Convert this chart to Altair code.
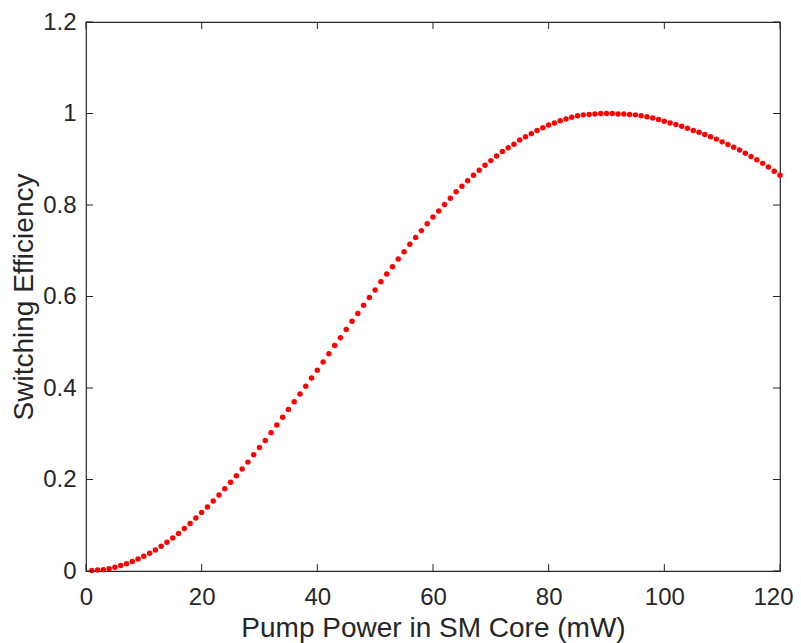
import altair as alt
import pandas as pd

# Pump power (mW) and switching efficiency
power = list(range(1, 121))
efficiency = [
    0.001, 0.002, 0.003, 0.005, 0.008, 0.012, 0.016, 0.021, 0.026, 0.032,
    0.039, 0.046, 0.054, 0.063, 0.072, 0.082, 0.093, 0.104, 0.116, 0.128,
    0.140, 0.153, 0.166, 0.180, 0.194, 0.208, 0.223, 0.238, 0.254, 0.270,
    0.285, 0.302, 0.319, 0.336, 0.353, 0.370, 0.387, 0.404, 0.422, 0.439,
    0.457, 0.475, 0.493, 0.510, 0.528, 0.546, 0.563, 0.581, 0.598, 0.614,
    0.632, 0.649, 0.665, 0.682, 0.698, 0.714, 0.729, 0.744, 0.759, 0.774,
    0.787, 0.801, 0.815, 0.829, 0.841, 0.853, 0.865, 0.876, 0.887, 0.897,
    0.907, 0.917, 0.925, 0.933, 0.942, 0.949, 0.956, 0.963, 0.969, 0.975,
    0.979, 0.984, 0.988, 0.992, 0.995, 0.997, 0.998, 0.999, 1.000, 1.000,
    1.000, 0.999, 0.999, 0.998, 0.997, 0.995, 0.993, 0.990, 0.987, 0.983,
    0.979, 0.976, 0.972, 0.968, 0.963, 0.959, 0.954, 0.949, 0.944, 0.938,
    0.932, 0.926, 0.920, 0.913, 0.906, 0.899, 0.891, 0.883, 0.874, 0.865,
]
x_ticks = [0, 20, 40, 60, 80, 100, 120]
y_ticks = [0, 0.2, 0.4, 0.6, 0.8, 1.0, 1.2]

W, H = 694, 549
AX = "#262626"
FONT = "Liberation Sans"

df = pd.DataFrame({"P": power, "E": efficiency})
dfx = pd.DataFrame({"P": x_ticks})
dfy = pd.DataFrame({"E": y_ticks})

xscale = alt.Scale(domain=[0, 120], nice=False, zero=False)
yscale = alt.Scale(domain=[0, 1.2], nice=False, zero=False)

points = alt.Chart(df).mark_circle(size=30, color="#ff0000", opacity=1).encode(
    x=alt.X("P:Q", scale=xscale,
            axis=alt.Axis(values=x_ticks, format="d", title="Pump Power in SM Core (mW)",
                          domain=False, ticks=False, grid=False, labelPadding=14,
                          labelFlush=False, labelOverlap=False,
                          labelOffset={"condition": {"test": "datum.value == 120", "value": -7},
                                       "value": 0},
                          labelFontSize=24, titleFontSize=28, labelColor=AX, titleColor=AX,
                          labelFont=FONT, titleFont=FONT, titleFontWeight="normal",
                          titlePadding=5)),
    y=alt.Y("E:Q", scale=yscale,
            axis=alt.Axis(values=y_ticks, format="~g", title="Switching Efficiency",
                          domain=False, ticks=False, grid=False, labelPadding=10,
                          labelFlush=False, labelOverlap=False,
                          labelFontSize=24, titleFontSize=28, labelColor=AX, titleColor=AX,
                          labelFont=FONT, titleFont=FONT, titleFontWeight="normal",
                          titlePadding=4)),
)

tl = 7
xt_bottom = alt.Chart(dfx).mark_rule(color=AX, strokeWidth=1).encode(
    x=alt.X("P:Q", scale=xscale), y=alt.value(H), y2=alt.value(H - tl))
xt_top = alt.Chart(dfx).mark_rule(color=AX, strokeWidth=1).encode(
    x=alt.X("P:Q", scale=xscale), y=alt.value(0), y2=alt.value(tl))
yt_left = alt.Chart(dfy).mark_rule(color=AX, strokeWidth=1).encode(
    y=alt.Y("E:Q", scale=yscale), x=alt.value(0), x2=alt.value(tl))
yt_right = alt.Chart(dfy).mark_rule(color=AX, strokeWidth=1).encode(
    y=alt.Y("E:Q", scale=yscale), x=alt.value(W), x2=alt.value(W - tl))

chart = alt.layer(points, xt_bottom, xt_top, yt_left, yt_right).properties(
    width=W, height=H,
    autosize=alt.AutoSizeParams(type="none"),
    padding={"left": 78, "top": 14, "right": 13, "bottom": 72},
).configure_view(stroke=AX, strokeWidth=1.2)

chart.save("out.html", embed_options={"renderer": "svg", "actions": False})
